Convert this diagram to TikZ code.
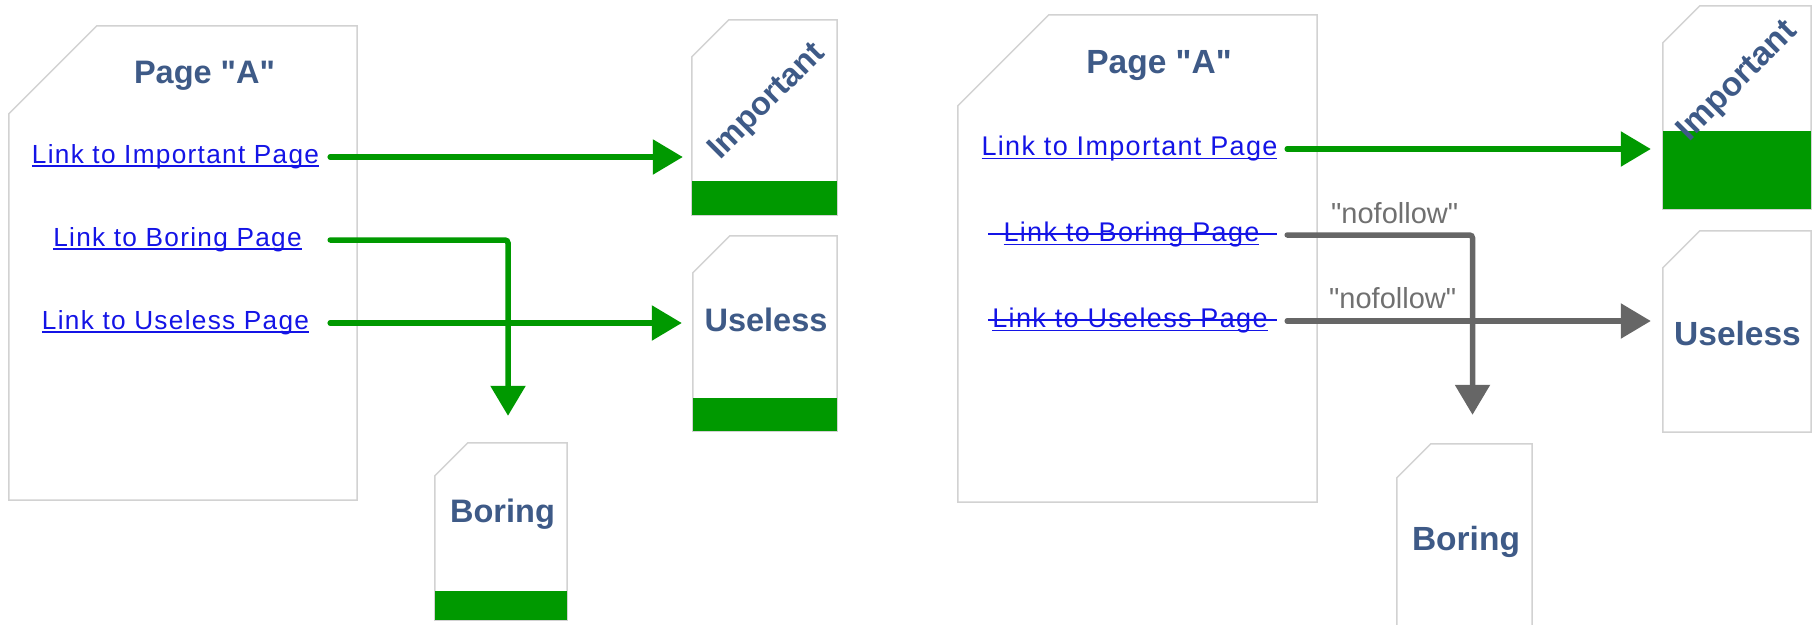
\documentclass[tikz,border=0pt]{standalone}
\usepackage{fontspec}
\setmainfont[Ligatures=TeXOff]{Liberation Sans}
\newfontfamily\linkfont[LetterSpace=5]{Liberation Sans}
\usetikzlibrary{arrows.meta}

\definecolor{linkblue}{RGB}{20,20,230}
\definecolor{titleblue}{RGB}{62,90,135}
\definecolor{followgreen}{RGB}{0,153,0}
\definecolor{nofollowgray}{RGB}{102,102,102}
\definecolor{nftextgray}{RGB}{112,112,112}
\definecolor{pagegray}{RGB}{210,210,210}

% underlined link text
\newcommand\ulink[1]{\setbox0\hbox{#1}\rlap{\rule[-3.2pt]{\wd0}{1.6pt}}\box0}
% page outline with the cut corner
\newcommand\pageoutline[2]{\draw[pageline] (#1.south west) -- ([yshift=-#2]#1.north west)
  -- ([xshift=#2]#1.north west) -- (#1.north east) -- (#1.south east) -- cycle;}

\tikzset{
  pageline/.style={draw=pagegray, line width=1.5pt, fill=white},
  pagebox/.style={inner sep=0pt, draw=none},
  pagetitle/.style={inner sep=0pt, text=titleblue, font=\bfseries\fontsize{#1}{#1}\selectfont},
  linktext/.style={inner sep=0pt, text=linkblue, font=\linkfont\fontsize{#1}{#1}\selectfont},
  nftext/.style={inner sep=0pt, text=nftextgray, font=\fontsize{29pt}{29pt}\selectfont},
  bar/.style={fill=followgreen},
  strike/.style={draw=linkblue, line width=1.6pt},
  flow/.style={line width=5.5pt, line cap=round, rounded corners=3pt,
    -{Triangle[length=30pt,width=34pt]}}
}

\begin{document}
\begin{tikzpicture}[x=1pt, y=-1pt]
\useasboundingbox (0,0) rectangle (1817,624);

% left: every link is followed
\node[pagebox, minimum width=348pt, minimum height=474pt] (pageL) at (183,263) {};
\pageoutline{pageL}{88pt}
\node[pagebox, minimum width=145pt, minimum height=195pt] (impL) at (764.5,117.5) {};
\pageoutline{impL}{37pt}
\fill[bar] (impL.south west) rectangle ([yshift=34pt]impL.south east);
\node[pagebox, minimum width=144pt, minimum height=195pt] (useL) at (765,333.5) {};
\pageoutline{useL}{37pt}
\fill[bar] (useL.south west) rectangle ([yshift=33pt]useL.south east);
\node[pagebox, minimum width=132pt, minimum height=177pt] (borL) at (501,531.5) {};
\pageoutline{borL}{33pt}
\fill[bar] (borL.south west) rectangle ([yshift=29pt]borL.south east);

\node[pagetitle=32.5pt, anchor=base] (titleL) at (204.5,83) {Page "A"};
\node[linktext=26.2pt] (limpL) at (175.5,157) {\ulink{Link to Important Page}};
\node[linktext=26.2pt] (lborL) at (177.5,240) {\ulink{Link to Boring Page}};
\node[linktext=26.2pt] (luseL) at (175.5,323) {\ulink{Link to Useless Page}};
\node[pagetitle=32.5pt, rotate=45] (timpL) at (767.5,102) {Important};
\node[pagetitle=32.5pt, anchor=base] (tuseL) at (766,331) {Useless};
\node[pagetitle=32.5pt, anchor=base] (tborL) at (502.5,522) {Boring};

\draw[flow, followgreen] ([xshift=-27pt]pageL.east |- limpL) -- ([xshift=-9pt]impL.west |- limpL);
\draw[flow, followgreen] ([xshift=-27pt]pageL.east |- lborL) -| ([xshift=7pt,yshift=27pt]borL.north);
\draw[flow, followgreen] ([xshift=-27pt]pageL.east |- luseL) -- ([xshift=-11pt]useL.west |- luseL);

% right: two links are nofollow
\node[pagebox, minimum width=359pt, minimum height=487pt] (pageR) at (1137.5,258.5) {};
\pageoutline{pageR}{91pt}
\node[pagebox, minimum width=148pt, minimum height=203pt] (impR) at (1737,107.5) {};
\pageoutline{impR}{37pt}
\fill[bar] (impR.south west) rectangle ([yshift=78pt]impR.south east);
\node[pagebox, minimum width=148pt, minimum height=201pt] (useR) at (1737,331.5) {};
\pageoutline{useR}{37pt}
\node[pagebox, minimum width=135pt, minimum height=196pt] (borR) at (1464.5,542) {};
\pageoutline{borR}{34pt}

\node[pagetitle=33.5pt, anchor=base] (titleR) at (1159,73) {Page "A"};
\node[linktext=27pt] (limpR) at (1129.5,149) {\ulink{Link to Important Page}};
\node[linktext=27pt] (lborR) at (1131.5,235) {\ulink{Link to Boring Page}};
\node[linktext=27pt] (luseR) at (1130,321) {\ulink{Link to Useless Page}};
\draw[strike] (988,234) -- (1277,234);
\draw[strike] (988,320) -- (1277,320);
\node[pagetitle=33.5pt, rotate=45] (timpR) at (1738,82) {Important};
\node[pagetitle=33.5pt, anchor=base] (tuseR) at (1737.5,345) {Useless};
\node[pagetitle=33.5pt, anchor=base] (tborR) at (1466,550) {Boring};

\draw[flow, followgreen] ([xshift=-30pt]pageR.east |- limpR) -- ([xshift=-12pt]impR.west |- limpR);
\draw[flow, nofollowgray] ([xshift=-30pt]pageR.east |- lborR) -| ([xshift=8pt,yshift=29pt]borR.north)
  node[nftext, pos=0.29, above=8pt] (nfbor) {"nofollow"};
\draw[flow, nofollowgray] ([xshift=-30pt]pageR.east |- luseR) -- ([xshift=-12pt]useR.west |- luseR)
  node[nftext, pos=0.29, above=9pt] (nfuse) {"nofollow"};
\end{tikzpicture}
\end{document}
